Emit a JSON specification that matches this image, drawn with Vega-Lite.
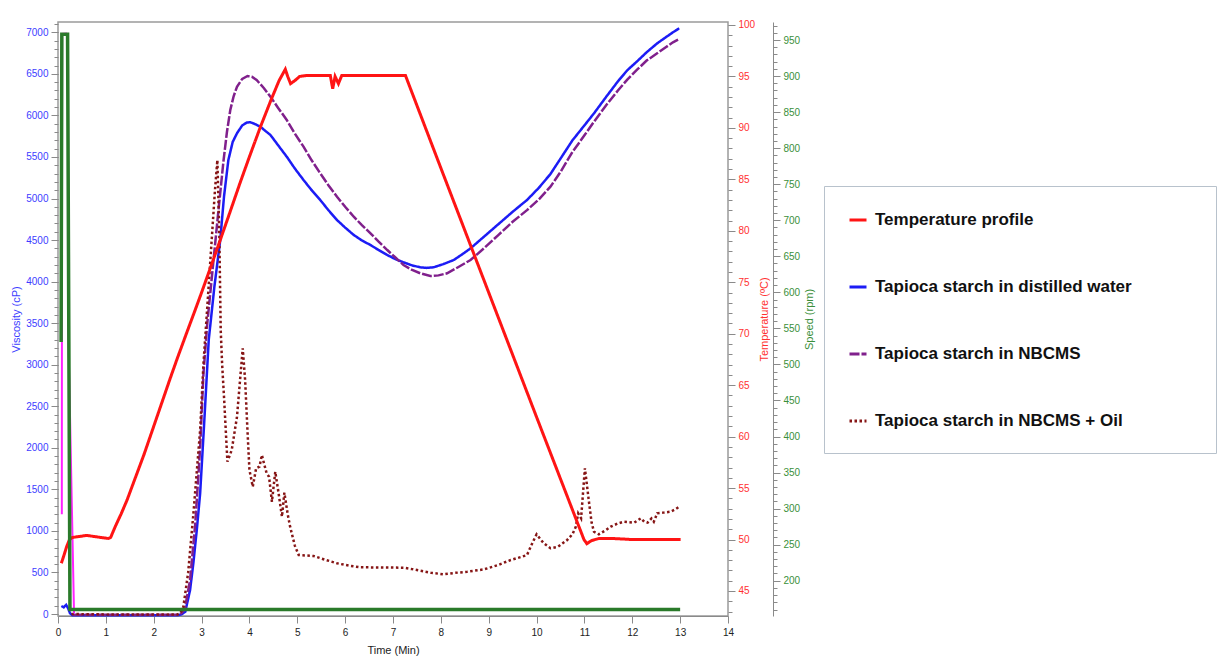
{
  "$schema": "https://vega.github.io/schema/vega-lite/v6.json",
  "width": 670,
  "height": 594,
  "autosize": {"type": "none"},
  "padding": {"left": 58, "top": 22, "right": 498, "bottom": 43},
  "background": "white",
  "config": {
    "view": {"stroke": "#9a9a9a", "strokeWidth": 1.5},
    "font": "Liberation Sans",
    "axis": {"labelFont": "Liberation Sans", "labelFontSize": 10, "titleFont": "Liberation Sans", "titleFontSize": 11, "titleFontWeight": "normal", "grid": false, "tickColor": "#8a8a8a", "domainColor": "#8a8a8a", "tickSize": 7, "labelPadding": 3},
    "legend": {"orient": "none", "legendX": 766, "legendY": 164, "padding": 24, "fillColor": "white", "strokeColor": "#b8c2cc", "rowPadding": 49, "symbolType": "stroke", "symbolSize": 289, "symbolStrokeWidth": 3, "labelFontSize": 17, "labelFontWeight": "bold", "labelFont": "Liberation Sans", "labelColor": "#111111", "labelLimit": 600, "labelOffset": 7}
  },
  "data": {"values": [
    {"s": "Temperature profile", "t": 0.07, "v": 47.7},
    {"s": "Temperature profile", "t": 0.12, "v": 48.4},
    {"s": "Temperature profile", "t": 0.18, "v": 49.3},
    {"s": "Temperature profile", "t": 0.24, "v": 50.0},
    {"s": "Temperature profile", "t": 0.3, "v": 50.2},
    {"s": "Temperature profile", "t": 0.45, "v": 50.3},
    {"s": "Temperature profile", "t": 0.6, "v": 50.4},
    {"s": "Temperature profile", "t": 0.75, "v": 50.3},
    {"s": "Temperature profile", "t": 0.9, "v": 50.2},
    {"s": "Temperature profile", "t": 1.05, "v": 50.1},
    {"s": "Temperature profile", "t": 1.1, "v": 50.2},
    {"s": "Temperature profile", "t": 1.2, "v": 51.3},
    {"s": "Temperature profile", "t": 1.32, "v": 52.5},
    {"s": "Temperature profile", "t": 1.44, "v": 53.8},
    {"s": "Temperature profile", "t": 1.6, "v": 55.8},
    {"s": "Temperature profile", "t": 1.8, "v": 58.3},
    {"s": "Temperature profile", "t": 2.0, "v": 61.0},
    {"s": "Temperature profile", "t": 2.17, "v": 63.3},
    {"s": "Temperature profile", "t": 2.34, "v": 65.6},
    {"s": "Temperature profile", "t": 2.5, "v": 67.7},
    {"s": "Temperature profile", "t": 2.69, "v": 70.1},
    {"s": "Temperature profile", "t": 2.85, "v": 72.1},
    {"s": "Temperature profile", "t": 3.0, "v": 74.0},
    {"s": "Temperature profile", "t": 3.2, "v": 76.6},
    {"s": "Temperature profile", "t": 3.39, "v": 79.1},
    {"s": "Temperature profile", "t": 3.6, "v": 81.9},
    {"s": "Temperature profile", "t": 3.8, "v": 84.6},
    {"s": "Temperature profile", "t": 4.0, "v": 87.2},
    {"s": "Temperature profile", "t": 4.23, "v": 90.1},
    {"s": "Temperature profile", "t": 4.45, "v": 92.7},
    {"s": "Temperature profile", "t": 4.62, "v": 94.6},
    {"s": "Temperature profile", "t": 4.75, "v": 95.7},
    {"s": "Temperature profile", "t": 4.8, "v": 95.0},
    {"s": "Temperature profile", "t": 4.86, "v": 94.3},
    {"s": "Temperature profile", "t": 4.95, "v": 94.6},
    {"s": "Temperature profile", "t": 5.05, "v": 95.0},
    {"s": "Temperature profile", "t": 5.2, "v": 95.1},
    {"s": "Temperature profile", "t": 5.69, "v": 95.1},
    {"s": "Temperature profile", "t": 5.74, "v": 93.8},
    {"s": "Temperature profile", "t": 5.79, "v": 95.0},
    {"s": "Temperature profile", "t": 5.86, "v": 94.3},
    {"s": "Temperature profile", "t": 5.93, "v": 95.1},
    {"s": "Temperature profile", "t": 6.5, "v": 95.1},
    {"s": "Temperature profile", "t": 7.0, "v": 95.1},
    {"s": "Temperature profile", "t": 7.26, "v": 95.1},
    {"s": "Temperature profile", "t": 7.35, "v": 94.0},
    {"s": "Temperature profile", "t": 8.0, "v": 86.1},
    {"s": "Temperature profile", "t": 9.0, "v": 74.0},
    {"s": "Temperature profile", "t": 10.0, "v": 61.9},
    {"s": "Temperature profile", "t": 10.99, "v": 50.0},
    {"s": "Temperature profile", "t": 11.05, "v": 49.6},
    {"s": "Temperature profile", "t": 11.15, "v": 49.9},
    {"s": "Temperature profile", "t": 11.3, "v": 50.1},
    {"s": "Temperature profile", "t": 11.6, "v": 50.1},
    {"s": "Temperature profile", "t": 12.0, "v": 50.0},
    {"s": "Temperature profile", "t": 12.5, "v": 50.0},
    {"s": "Temperature profile", "t": 13.01, "v": 50.0},

    {"s": "Tapioca starch in distilled water", "t": 0.07, "v": 96},
    {"s": "Tapioca starch in distilled water", "t": 0.12, "v": 80},
    {"s": "Tapioca starch in distilled water", "t": 0.17, "v": 110},
    {"s": "Tapioca starch in distilled water", "t": 0.21, "v": 70},
    {"s": "Tapioca starch in distilled water", "t": 0.25, "v": 10},
    {"s": "Tapioca starch in distilled water", "t": 0.3, "v": -15},
    {"s": "Tapioca starch in distilled water", "t": 1.5, "v": -15},
    {"s": "Tapioca starch in distilled water", "t": 2.5, "v": -15},
    {"s": "Tapioca starch in distilled water", "t": 2.58, "v": -5},
    {"s": "Tapioca starch in distilled water", "t": 2.66, "v": 28},
    {"s": "Tapioca starch in distilled water", "t": 2.76, "v": 289},
    {"s": "Tapioca starch in distilled water", "t": 2.83, "v": 620},
    {"s": "Tapioca starch in distilled water", "t": 2.9, "v": 1011},
    {"s": "Tapioca starch in distilled water", "t": 2.97, "v": 1450},
    {"s": "Tapioca starch in distilled water", "t": 3.05, "v": 2250},
    {"s": "Tapioca starch in distilled water", "t": 3.15, "v": 3300},
    {"s": "Tapioca starch in distilled water", "t": 3.27, "v": 3950},
    {"s": "Tapioca starch in distilled water", "t": 3.39, "v": 4500},
    {"s": "Tapioca starch in distilled water", "t": 3.47, "v": 5030},
    {"s": "Tapioca starch in distilled water", "t": 3.56, "v": 5463},
    {"s": "Tapioca starch in distilled water", "t": 3.65, "v": 5680},
    {"s": "Tapioca starch in distilled water", "t": 3.74, "v": 5785},
    {"s": "Tapioca starch in distilled water", "t": 3.85, "v": 5880},
    {"s": "Tapioca starch in distilled water", "t": 3.95, "v": 5915},
    {"s": "Tapioca starch in distilled water", "t": 4.02, "v": 5917},
    {"s": "Tapioca starch in distilled water", "t": 4.1, "v": 5900},
    {"s": "Tapioca starch in distilled water", "t": 4.23, "v": 5864},
    {"s": "Tapioca starch in distilled water", "t": 4.33, "v": 5815},
    {"s": "Tapioca starch in distilled water", "t": 4.44, "v": 5764},
    {"s": "Tapioca starch in distilled water", "t": 4.6, "v": 5640},
    {"s": "Tapioca starch in distilled water", "t": 4.78, "v": 5503},
    {"s": "Tapioca starch in distilled water", "t": 4.95, "v": 5360},
    {"s": "Tapioca starch in distilled water", "t": 5.13, "v": 5223},
    {"s": "Tapioca starch in distilled water", "t": 5.3, "v": 5100},
    {"s": "Tapioca starch in distilled water", "t": 5.48, "v": 4982},
    {"s": "Tapioca starch in distilled water", "t": 5.65, "v": 4860},
    {"s": "Tapioca starch in distilled water", "t": 5.83, "v": 4741},
    {"s": "Tapioca starch in distilled water", "t": 6.0, "v": 4650},
    {"s": "Tapioca starch in distilled water", "t": 6.18, "v": 4561},
    {"s": "Tapioca starch in distilled water", "t": 6.35, "v": 4495},
    {"s": "Tapioca starch in distilled water", "t": 6.53, "v": 4440},
    {"s": "Tapioca starch in distilled water", "t": 6.7, "v": 4380},
    {"s": "Tapioca starch in distilled water", "t": 6.88, "v": 4320},
    {"s": "Tapioca starch in distilled water", "t": 7.05, "v": 4270},
    {"s": "Tapioca starch in distilled water", "t": 7.22, "v": 4232},
    {"s": "Tapioca starch in distilled water", "t": 7.4, "v": 4195},
    {"s": "Tapioca starch in distilled water", "t": 7.57, "v": 4172},
    {"s": "Tapioca starch in distilled water", "t": 7.7, "v": 4165},
    {"s": "Tapioca starch in distilled water", "t": 7.85, "v": 4172},
    {"s": "Tapioca starch in distilled water", "t": 8.05, "v": 4210},
    {"s": "Tapioca starch in distilled water", "t": 8.27, "v": 4260},
    {"s": "Tapioca starch in distilled water", "t": 8.45, "v": 4330},
    {"s": "Tapioca starch in distilled water", "t": 8.62, "v": 4400},
    {"s": "Tapioca starch in distilled water", "t": 8.9, "v": 4540},
    {"s": "Tapioca starch in distilled water", "t": 9.2, "v": 4690},
    {"s": "Tapioca starch in distilled water", "t": 9.5, "v": 4840},
    {"s": "Tapioca starch in distilled water", "t": 9.8, "v": 4982},
    {"s": "Tapioca starch in distilled water", "t": 10.05, "v": 5130},
    {"s": "Tapioca starch in distilled water", "t": 10.29, "v": 5295},
    {"s": "Tapioca starch in distilled water", "t": 10.5, "v": 5480},
    {"s": "Tapioca starch in distilled water", "t": 10.75, "v": 5700},
    {"s": "Tapioca starch in distilled water", "t": 11.0, "v": 5880},
    {"s": "Tapioca starch in distilled water", "t": 11.2, "v": 6025},
    {"s": "Tapioca starch in distilled water", "t": 11.45, "v": 6220},
    {"s": "Tapioca starch in distilled water", "t": 11.7, "v": 6410},
    {"s": "Tapioca starch in distilled water", "t": 11.9, "v": 6546},
    {"s": "Tapioca starch in distilled water", "t": 12.1, "v": 6650},
    {"s": "Tapioca starch in distilled water", "t": 12.3, "v": 6760},
    {"s": "Tapioca starch in distilled water", "t": 12.52, "v": 6867},
    {"s": "Tapioca starch in distilled water", "t": 12.7, "v": 6940},
    {"s": "Tapioca starch in distilled water", "t": 12.85, "v": 7000},
    {"s": "Tapioca starch in distilled water", "t": 12.98, "v": 7048},

    {"s": "Tapioca starch in NBCMS", "t": 0.3, "v": -10},
    {"s": "Tapioca starch in NBCMS", "t": 1.5, "v": -10},
    {"s": "Tapioca starch in NBCMS", "t": 2.5, "v": -10},
    {"s": "Tapioca starch in NBCMS", "t": 2.58, "v": 10},
    {"s": "Tapioca starch in NBCMS", "t": 2.65, "v": 60},
    {"s": "Tapioca starch in NBCMS", "t": 2.76, "v": 409},
    {"s": "Tapioca starch in NBCMS", "t": 2.87, "v": 1100},
    {"s": "Tapioca starch in NBCMS", "t": 2.97, "v": 2000},
    {"s": "Tapioca starch in NBCMS", "t": 3.04, "v": 2900},
    {"s": "Tapioca starch in NBCMS", "t": 3.12, "v": 3500},
    {"s": "Tapioca starch in NBCMS", "t": 3.25, "v": 4260},
    {"s": "Tapioca starch in NBCMS", "t": 3.36, "v": 4900},
    {"s": "Tapioca starch in NBCMS", "t": 3.46, "v": 5463},
    {"s": "Tapioca starch in NBCMS", "t": 3.53, "v": 5800},
    {"s": "Tapioca starch in NBCMS", "t": 3.6, "v": 6065},
    {"s": "Tapioca starch in NBCMS", "t": 3.67, "v": 6230},
    {"s": "Tapioca starch in NBCMS", "t": 3.74, "v": 6345},
    {"s": "Tapioca starch in NBCMS", "t": 3.85, "v": 6440},
    {"s": "Tapioca starch in NBCMS", "t": 3.96, "v": 6474},
    {"s": "Tapioca starch in NBCMS", "t": 4.05, "v": 6465},
    {"s": "Tapioca starch in NBCMS", "t": 4.15, "v": 6426},
    {"s": "Tapioca starch in NBCMS", "t": 4.3, "v": 6330},
    {"s": "Tapioca starch in NBCMS", "t": 4.44, "v": 6225},
    {"s": "Tapioca starch in NBCMS", "t": 4.6, "v": 6090},
    {"s": "Tapioca starch in NBCMS", "t": 4.78, "v": 5945},
    {"s": "Tapioca starch in NBCMS", "t": 4.95, "v": 5780},
    {"s": "Tapioca starch in NBCMS", "t": 5.13, "v": 5624},
    {"s": "Tapioca starch in NBCMS", "t": 5.3, "v": 5460},
    {"s": "Tapioca starch in NBCMS", "t": 5.48, "v": 5303},
    {"s": "Tapioca starch in NBCMS", "t": 5.65, "v": 5160},
    {"s": "Tapioca starch in NBCMS", "t": 5.83, "v": 5022},
    {"s": "Tapioca starch in NBCMS", "t": 6.0, "v": 4900},
    {"s": "Tapioca starch in NBCMS", "t": 6.18, "v": 4781},
    {"s": "Tapioca starch in NBCMS", "t": 6.35, "v": 4680},
    {"s": "Tapioca starch in NBCMS", "t": 6.53, "v": 4581},
    {"s": "Tapioca starch in NBCMS", "t": 6.7, "v": 4480},
    {"s": "Tapioca starch in NBCMS", "t": 6.88, "v": 4380},
    {"s": "Tapioca starch in NBCMS", "t": 7.05, "v": 4290},
    {"s": "Tapioca starch in NBCMS", "t": 7.22, "v": 4200},
    {"s": "Tapioca starch in NBCMS", "t": 7.4, "v": 4140},
    {"s": "Tapioca starch in NBCMS", "t": 7.57, "v": 4100},
    {"s": "Tapioca starch in NBCMS", "t": 7.78, "v": 4067},
    {"s": "Tapioca starch in NBCMS", "t": 7.95, "v": 4075},
    {"s": "Tapioca starch in NBCMS", "t": 8.13, "v": 4100},
    {"s": "Tapioca starch in NBCMS", "t": 8.35, "v": 4170},
    {"s": "Tapioca starch in NBCMS", "t": 8.62, "v": 4260},
    {"s": "Tapioca starch in NBCMS", "t": 8.9, "v": 4400},
    {"s": "Tapioca starch in NBCMS", "t": 9.2, "v": 4560},
    {"s": "Tapioca starch in NBCMS", "t": 9.5, "v": 4720},
    {"s": "Tapioca starch in NBCMS", "t": 9.8, "v": 4860},
    {"s": "Tapioca starch in NBCMS", "t": 10.05, "v": 4990},
    {"s": "Tapioca starch in NBCMS", "t": 10.29, "v": 5142},
    {"s": "Tapioca starch in NBCMS", "t": 10.5, "v": 5320},
    {"s": "Tapioca starch in NBCMS", "t": 10.75, "v": 5560},
    {"s": "Tapioca starch in NBCMS", "t": 11.0, "v": 5760},
    {"s": "Tapioca starch in NBCMS", "t": 11.2, "v": 5924},
    {"s": "Tapioca starch in NBCMS", "t": 11.45, "v": 6120},
    {"s": "Tapioca starch in NBCMS", "t": 11.7, "v": 6300},
    {"s": "Tapioca starch in NBCMS", "t": 11.9, "v": 6434},
    {"s": "Tapioca starch in NBCMS", "t": 12.1, "v": 6550},
    {"s": "Tapioca starch in NBCMS", "t": 12.3, "v": 6660},
    {"s": "Tapioca starch in NBCMS", "t": 12.52, "v": 6747},
    {"s": "Tapioca starch in NBCMS", "t": 12.7, "v": 6820},
    {"s": "Tapioca starch in NBCMS", "t": 12.85, "v": 6880},
    {"s": "Tapioca starch in NBCMS", "t": 12.98, "v": 6919},

    {"s": "Tapioca starch in NBCMS + Oil", "t": 0.28, "v": 0},
    {"s": "Tapioca starch in NBCMS + Oil", "t": 1.0, "v": -5},
    {"s": "Tapioca starch in NBCMS + Oil", "t": 2.0, "v": -5},
    {"s": "Tapioca starch in NBCMS + Oil", "t": 2.5, "v": -5},
    {"s": "Tapioca starch in NBCMS + Oil", "t": 2.56, "v": 15},
    {"s": "Tapioca starch in NBCMS + Oil", "t": 2.62, "v": 88},
    {"s": "Tapioca starch in NBCMS + Oil", "t": 2.72, "v": 500},
    {"s": "Tapioca starch in NBCMS + Oil", "t": 2.83, "v": 1212},
    {"s": "Tapioca starch in NBCMS + Oil", "t": 2.97, "v": 2214},
    {"s": "Tapioca starch in NBCMS + Oil", "t": 3.04, "v": 3017},
    {"s": "Tapioca starch in NBCMS + Oil", "t": 3.12, "v": 3700},
    {"s": "Tapioca starch in NBCMS + Oil", "t": 3.2, "v": 4400},
    {"s": "Tapioca starch in NBCMS + Oil", "t": 3.28, "v": 5100},
    {"s": "Tapioca starch in NBCMS + Oil", "t": 3.33, "v": 5463},
    {"s": "Tapioca starch in NBCMS + Oil", "t": 3.37, "v": 4600},
    {"s": "Tapioca starch in NBCMS + Oil", "t": 3.4, "v": 3417},
    {"s": "Tapioca starch in NBCMS + Oil", "t": 3.43, "v": 3000},
    {"s": "Tapioca starch in NBCMS + Oil", "t": 3.47, "v": 2600},
    {"s": "Tapioca starch in NBCMS + Oil", "t": 3.54, "v": 1833},
    {"s": "Tapioca starch in NBCMS + Oil", "t": 3.63, "v": 1973},
    {"s": "Tapioca starch in NBCMS + Oil", "t": 3.74, "v": 2374},
    {"s": "Tapioca starch in NBCMS + Oil", "t": 3.86, "v": 3197},
    {"s": "Tapioca starch in NBCMS + Oil", "t": 3.91, "v": 2816},
    {"s": "Tapioca starch in NBCMS + Oil", "t": 3.96, "v": 2200},
    {"s": "Tapioca starch in NBCMS + Oil", "t": 4.0, "v": 1733},
    {"s": "Tapioca starch in NBCMS + Oil", "t": 4.07, "v": 1532},
    {"s": "Tapioca starch in NBCMS + Oil", "t": 4.14, "v": 1753},
    {"s": "Tapioca starch in NBCMS + Oil", "t": 4.21, "v": 1773},
    {"s": "Tapioca starch in NBCMS + Oil", "t": 4.26, "v": 1913},
    {"s": "Tapioca starch in NBCMS + Oil", "t": 4.31, "v": 1800},
    {"s": "Tapioca starch in NBCMS + Oil", "t": 4.36, "v": 1693},
    {"s": "Tapioca starch in NBCMS + Oil", "t": 4.41, "v": 1652},
    {"s": "Tapioca starch in NBCMS + Oil", "t": 4.47, "v": 1351},
    {"s": "Tapioca starch in NBCMS + Oil", "t": 4.54, "v": 1712},
    {"s": "Tapioca starch in NBCMS + Oil", "t": 4.61, "v": 1452},
    {"s": "Tapioca starch in NBCMS + Oil", "t": 4.68, "v": 1171},
    {"s": "Tapioca starch in NBCMS + Oil", "t": 4.73, "v": 1460},
    {"s": "Tapioca starch in NBCMS + Oil", "t": 4.8, "v": 1200},
    {"s": "Tapioca starch in NBCMS + Oil", "t": 4.85, "v": 1051},
    {"s": "Tapioca starch in NBCMS + Oil", "t": 4.95, "v": 820},
    {"s": "Tapioca starch in NBCMS + Oil", "t": 5.03, "v": 710},
    {"s": "Tapioca starch in NBCMS + Oil", "t": 5.34, "v": 698},
    {"s": "Tapioca starch in NBCMS + Oil", "t": 5.6, "v": 650},
    {"s": "Tapioca starch in NBCMS + Oil", "t": 5.83, "v": 610},
    {"s": "Tapioca starch in NBCMS + Oil", "t": 6.1, "v": 580},
    {"s": "Tapioca starch in NBCMS + Oil", "t": 6.32, "v": 562},
    {"s": "Tapioca starch in NBCMS + Oil", "t": 6.8, "v": 560},
    {"s": "Tapioca starch in NBCMS + Oil", "t": 7.22, "v": 557},
    {"s": "Tapioca starch in NBCMS + Oil", "t": 7.4, "v": 540},
    {"s": "Tapioca starch in NBCMS + Oil", "t": 7.57, "v": 521},
    {"s": "Tapioca starch in NBCMS + Oil", "t": 7.8, "v": 495},
    {"s": "Tapioca starch in NBCMS + Oil", "t": 8.06, "v": 478},
    {"s": "Tapioca starch in NBCMS + Oil", "t": 8.3, "v": 495},
    {"s": "Tapioca starch in NBCMS + Oil", "t": 8.55, "v": 509},
    {"s": "Tapioca starch in NBCMS + Oil", "t": 8.9, "v": 537},
    {"s": "Tapioca starch in NBCMS + Oil", "t": 9.2, "v": 590},
    {"s": "Tapioca starch in NBCMS + Oil", "t": 9.46, "v": 650},
    {"s": "Tapioca starch in NBCMS + Oil", "t": 9.7, "v": 690},
    {"s": "Tapioca starch in NBCMS + Oil", "t": 9.8, "v": 710},
    {"s": "Tapioca starch in NBCMS + Oil", "t": 9.91, "v": 851},
    {"s": "Tapioca starch in NBCMS + Oil", "t": 10.0, "v": 959},
    {"s": "Tapioca starch in NBCMS + Oil", "t": 10.08, "v": 900},
    {"s": "Tapioca starch in NBCMS + Oil", "t": 10.15, "v": 851},
    {"s": "Tapioca starch in NBCMS + Oil", "t": 10.29, "v": 791},
    {"s": "Tapioca starch in NBCMS + Oil", "t": 10.45, "v": 810},
    {"s": "Tapioca starch in NBCMS + Oil", "t": 10.64, "v": 891},
    {"s": "Tapioca starch in NBCMS + Oil", "t": 10.75, "v": 960},
    {"s": "Tapioca starch in NBCMS + Oil", "t": 10.82, "v": 1051},
    {"s": "Tapioca starch in NBCMS + Oil", "t": 10.87, "v": 1212},
    {"s": "Tapioca starch in NBCMS + Oil", "t": 10.93, "v": 1152},
    {"s": "Tapioca starch in NBCMS + Oil", "t": 11.01, "v": 1753},
    {"s": "Tapioca starch in NBCMS + Oil", "t": 11.09, "v": 1372},
    {"s": "Tapioca starch in NBCMS + Oil", "t": 11.15, "v": 1100},
    {"s": "Tapioca starch in NBCMS + Oil", "t": 11.2, "v": 990},
    {"s": "Tapioca starch in NBCMS + Oil", "t": 11.3, "v": 959},
    {"s": "Tapioca starch in NBCMS + Oil", "t": 11.45, "v": 1010},
    {"s": "Tapioca starch in NBCMS + Oil", "t": 11.55, "v": 1051},
    {"s": "Tapioca starch in NBCMS + Oil", "t": 11.7, "v": 1090},
    {"s": "Tapioca starch in NBCMS + Oil", "t": 11.83, "v": 1111},
    {"s": "Tapioca starch in NBCMS + Oil", "t": 12.04, "v": 1099},
    {"s": "Tapioca starch in NBCMS + Oil", "t": 12.18, "v": 1152},
    {"s": "Tapioca starch in NBCMS + Oil", "t": 12.25, "v": 1110},
    {"s": "Tapioca starch in NBCMS + Oil", "t": 12.32, "v": 1099},
    {"s": "Tapioca starch in NBCMS + Oil", "t": 12.4, "v": 1150},
    {"s": "Tapioca starch in NBCMS + Oil", "t": 12.45, "v": 1110},
    {"s": "Tapioca starch in NBCMS + Oil", "t": 12.52, "v": 1212},
    {"s": "Tapioca starch in NBCMS + Oil", "t": 12.65, "v": 1220},
    {"s": "Tapioca starch in NBCMS + Oil", "t": 12.8, "v": 1231},
    {"s": "Tapioca starch in NBCMS + Oil", "t": 12.9, "v": 1260},
    {"s": "Tapioca starch in NBCMS + Oil", "t": 12.98, "v": 1291},

    {"s": "Speed", "t": 0.065, "v": 531},
    {"s": "Speed", "t": 0.08, "v": 958},
    {"s": "Speed", "t": 0.2, "v": 958},
    {"s": "Speed", "t": 0.25, "v": 160},
    {"s": "Speed", "t": 13.0, "v": 160},

    {"s": "Initial", "t": 0.08, "v": 1200},
    {"s": "Initial", "t": 0.085, "v": 6980},
    {"s": "Initial", "t": 0.17, "v": 6985},
    {"s": "Initial", "t": 0.2, "v": 6940},
    {"s": "Initial", "t": 0.21, "v": 6600},
    {"s": "Initial", "t": 0.215, "v": 3400},
    {"s": "Initial", "t": 0.335, "v": 10}
  ]},
  "encoding": {
    "x": {"field": "t", "type": "quantitative", "scale": {"domain": [0, 14], "nice": false},
      "axis": {"values": [0,1,2,3,4,5,6,7,8,9,10,11,12,13,14], "title": "Time (Min)", "labelColor": "#222222", "titleColor": "#222222", "titlePadding": 7, "labelPadding": 4, "labelFlush": false}}
  },
  "layer": [
    {
      "transform": [{"filter": {"field": "s", "oneOf": ["Tapioca starch in distilled water", "Tapioca starch in NBCMS", "Tapioca starch in NBCMS + Oil"]}}],
      "mark": {"type": "line", "strokeWidth": 2.5, "strokeCap": "butt"},
      "encoding": {
        "y": {"field": "v", "type": "quantitative", "scale": {"domain": [-24, 7124], "nice": false, "zero": false},
          "axis": {"orient": "left", "format": "d", "values": [0,500,1000,1500,2000,2500,3000,3500,4000,4500,5000,5500,6000,6500,7000], "title": "Viscosity (cP)", "labelColor": "#3d3dff", "titleColor": "#3d3dff", "titlePadding": 4, "domain": false, "labelFlush": false}},
        "color": {"field": "s", "type": "nominal", "title": null,
          "scale": {"domain": ["Temperature profile", "Tapioca starch in distilled water", "Tapioca starch in NBCMS", "Tapioca starch in NBCMS + Oil"], "range": ["#ff1414", "#1c1cf5", "#80208c", "#861515"]},
          "legend": {"labelExpr": "datum.label + '\u2800\u2800\u2800\u2800\u2800'"}},
        "strokeDash": {"field": "s", "type": "nominal", "title": null,
          "scale": {"domain": ["Temperature profile", "Tapioca starch in distilled water", "Tapioca starch in NBCMS", "Tapioca starch in NBCMS + Oil"], "range": [[1, 0], [1, 0], [10, 2], [2.5, 2.5]]},
          "legend": {"labelExpr": "datum.label + '\u2800\u2800\u2800\u2800\u2800'"}}
      }
    },
    {
      "transform": [{"filter": {"field": "s", "equal": "Initial"}}],
      "mark": {"type": "line", "strokeWidth": 2, "color": "#ff22ff"},
      "encoding": {
        "y": {"field": "v", "type": "quantitative", "scale": {"domain": [-24, 7124], "nice": false, "zero": false},
          "axis": {"orient": "left", "values": [0,100,200,300,400,500,600,700,800,900,1000,1100,1200,1300,1400,1500,1600,1700,1800,1900,2000,2100,2200,2300,2400,2500,2600,2700,2800,2900,3000,3100,3200,3300,3400,3500,3600,3700,3800,3900,4000,4100,4200,4300,4400,4500,4600,4700,4800,4900,5000,5100,5200,5300,5400,5500,5600,5700,5800,5900,6000,6100,6200,6300,6400,6500,6600,6700,6800,6900,7000,7100], "labels": false, "domain": false, "title": null, "tickSize": 4}}
      }
    },
    {
      "transform": [{"filter": {"field": "s", "equal": "Temperature profile"}}],
      "mark": {"type": "line", "strokeWidth": 3},
      "encoding": {
        "y": {"field": "v", "type": "quantitative", "scale": {"domain": [42.57, 100.29], "nice": false, "zero": false},
          "axis": {"orient": "right", "values": [45,50,55,60,65,70,75,80,85,90,95,100], "title": "Temperature (ºC)", "titleAngle": -90, "titleBaseline": "top", "labelColor": "#ff3030", "titleColor": "#ff3030", "titlePadding": 4, "domain": false, "labelFlush": false}},
        "color": {"field": "s", "type": "nominal", "title": null,
          "legend": {"labelExpr": "datum.label + '\u2800\u2800\u2800\u2800\u2800'"}},
        "strokeDash": {"field": "s", "type": "nominal", "title": null,
          "legend": {"labelExpr": "datum.label + '\u2800\u2800\u2800\u2800\u2800'"}}
      }
    },
    {
      "transform": [{"filter": {"field": "s", "equal": "Temperature profile"}}],
      "mark": {"type": "line", "opacity": 0},
      "encoding": {
        "y": {"field": "v", "type": "quantitative", "scale": {"domain": [42.57, 100.29], "nice": false, "zero": false},
          "axis": {"orient": "right", "values": [43,44,45,46,47,48,49,50,51,52,53,54,55,56,57,58,59,60,61,62,63,64,65,66,67,68,69,70,71,72,73,74,75,76,77,78,79,80,81,82,83,84,85,86,87,88,89,90,91,92,93,94,95,96,97,98,99,100], "labels": false, "domain": false, "title": null, "tickSize": 4}}
      }
    },
    {
      "transform": [{"filter": {"field": "s", "equal": "Speed"}}],
      "mark": {"type": "line", "opacity": 0},
      "encoding": {
        "y": {"field": "v", "type": "quantitative", "scale": {"domain": [151, 975], "nice": false, "zero": false},
          "axis": {"orient": "right", "offset": 45, "values": [160,170,180,190,200,210,220,230,240,250,260,270,280,290,300,310,320,330,340,350,360,370,380,390,400,410,420,430,440,450,460,470,480,490,500,510,520,530,540,550,560,570,580,590,600,610,620,630,640,650,660,670,680,690,700,710,720,730,740,750,760,770,780,790,800,810,820,830,840,850,860,870,880,890,900,910,920,930,940,950,960,970], "labels": false, "domain": false, "title": null, "tickSize": 4}}
      }
    },
    {
      "transform": [{"filter": {"field": "s", "equal": "Speed"}}],
      "mark": {"type": "line", "strokeWidth": 3.5, "color": "#2a7a2a"},
      "encoding": {
        "y": {"field": "v", "type": "quantitative", "scale": {"domain": [151, 975], "nice": false, "zero": false},
          "axis": {"orient": "right", "offset": 45, "values": [200,250,300,350,400,450,500,550,600,650,700,750,800,850,900,950], "title": "Speed (rpm)", "titleAngle": -90, "titleBaseline": "top", "labelColor": "#3a8f3a", "titleColor": "#3a8f3a", "titlePadding": 4, "domain": true, "labelFlush": false}}
      }
    }
  ],
  "resolve": {"scale": {"y": "independent"}}
}
